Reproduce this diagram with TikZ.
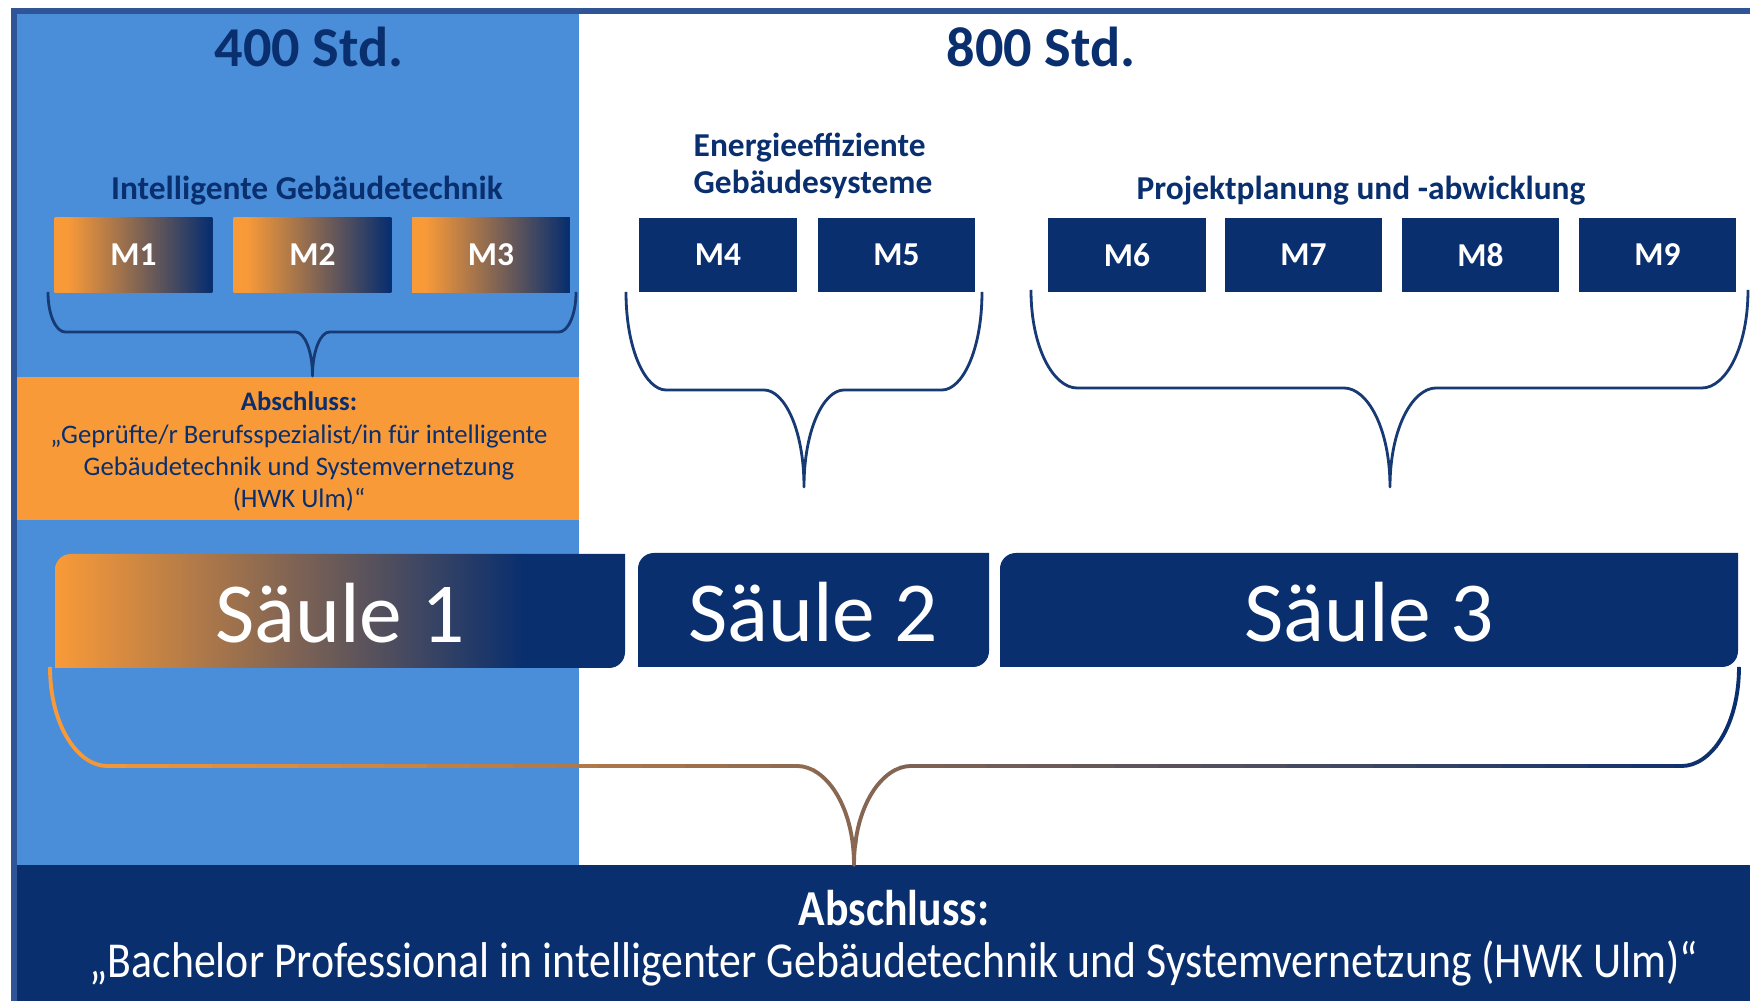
\documentclass[tikz,border=0pt]{standalone}
\usepackage{fontspec}
\setmainfont{Carlito}
\newfontfamily\narrowfont[FakeStretch=0.87]{Carlito}
\usepackage{tikz}

\definecolor{navy}{HTML}{0A2F6E}
\definecolor{panelblue}{HTML}{4A8EDA}
\definecolor{amber}{HTML}{F99A38}
\definecolor{framecol}{HTML}{2F5597}
\definecolor{bracecol}{HTML}{173A74}

\pgfdeclarehorizontalshading{modshade}{100bp}{color(0bp)=(amber); color(29bp)=(amber); color(74bp)=(navy); color(100bp)=(navy)}
\pgfdeclarehorizontalshading{pillarshade}{100bp}{color(0bp)=(amber); color(25bp)=(amber); color(66bp)=(navy); color(100bp)=(navy)}

% curly brace opening downwards: x0, x1, tip x, y top, y middle, y tip, radius
\newcommand{\downbrace}[8][]{%
  \draw[#1] (#2,#5) .. controls (#2,{#5+0.6*(#6-#5)}) and ({#2+0.5*#8},#6) .. ({#2+#8},#6)
    -- ({#4-#8},#6) .. controls ({#4-0.5*#8},#6) and (#4,{#6+0.4*(#7-#6)}) .. (#4,#7)
    .. controls (#4,{#6+0.4*(#7-#6)}) and ({#4+0.5*#8},#6) .. ({#4+#8},#6)
    -- ({#3-#8},#6) .. controls ({#3-0.5*#8},#6) and (#3,{#5+0.6*(#6-#5)}) .. (#3,#5);}

% box with round top left and bottom right corner: x0, y0, x1, y1
\newcommand{\pillar}[5][]{%
  \path[#1] (#2,#5) -- (#2,{#3+16}) .. controls (#2,{#3+7}) and ({#2+7},#3) .. ({#2+16},#3)
    -- (#4,#3) -- (#4,{#5-16}) .. controls (#4,{#5-7}) and ({#4-7},#5) .. ({#4-16},#5) -- cycle;}

\tikzset{
  brace/.style={draw=bracecol,line width=0.8pt,line join=round},
  hours/.style={inner sep=0,anchor=base,text=navy,font=\fontsize{16}{19}\selectfont\bfseries},
  heading/.style={inner sep=0,text=navy,font=\fontsize{9.5}{10.8}\selectfont\bfseries},
  pillartext/.style={inner sep=0,anchor=base,text=white,font=\fontsize{24.3}{29}\selectfont}
}

\begin{document}
\begin{tikzpicture}[x=0.01cm,y=-0.01cm]
  \useasboundingbox[fill=white] (0,0) rectangle (1750,1001);
  \fill[panelblue] (17,14) rectangle (579,865);
  \fill[navy] (17,865) rectangle (1750,1001);
  \fill[amber] (17,377) rectangle (579,520);
  \draw[framecol,line width=1.7pt] (14,1001) -- (14,11.5) -- (1750,11.5);

  \node[hours] (H400) at (309,67) {400 Std.};
  \node[hours] (H800) at (1041,67) {800 Std.};

  \node[heading,anchor=base] (T1) at (307,200) {Intelligente Gebäudetechnik};
  \node[heading,anchor=base west,align=left] (T2) at (693,194) {Energieeffiziente\\Gebäudesysteme};
  \node[heading,anchor=base] (T3) at (1361,200) {Projektplanung und -abwicklung};

  \begin{scope}[every node/.style={minimum width=1.575cm,minimum height=0.74cm,inner sep=0,
      text=white,font=\fontsize{9.5}{11}\selectfont\bfseries}]
    \node[shade,shading=modshade] (M1) at (133.5,255) {M1};
    \node[shade,shading=modshade] (M2) at (312.5,255) {M2};
    \node[shade,shading=modshade] (M3) at (491,255) {M3};
    \node[fill=navy] (M4) at (718,255) {M4};
    \node[fill=navy] (M5) at (896.5,255) {M5};
    \node[fill=navy] (M6) at (1127,255) {M6};
    \node[fill=navy] (M7) at (1303.5,255) {M7};
    \node[fill=navy] (M8) at (1480.5,255) {M8};
    \node[fill=navy] (M9) at (1657.5,255) {M9};
  \end{scope}

  \node[inner sep=0,anchor=base,align=center,text=navy,font=\fontsize{7.6}{9.15}\selectfont] (Q1) at (299,507.5)
    {\textbf{Abschluss:}\\„Geprüfte/r Berufsspezialist/in für intelligente\\Gebäudetechnik und Systemvernetzung\\(HWK Ulm)“};

  \downbrace[brace]{48}{576}{312.5}{292}{332}{376}{17}
  \downbrace[brace]{626}{982}{804}{292}{390}{487}{40}
  \downbrace[brace]{1031}{1748}{1390}{290}{388}{487}{46}

  \foreach \i in {0,...,39}{
    \pgfmathtruncatemacro\mix{100-\i*100/39}
    \begin{scope}
      \clip ({40+\i*43},650) rectangle ({40+(\i+1)*43+0.5},870);
      \downbrace[line width=1.1pt,line join=round,color=amber!\mix!navy]{50}{1739}{854}{667}{766}{865}{57}
    \end{scope}
  }

  \pillar[shade,shading=pillarshade]{55}{554}{625}{668}
  \pillar[fill=navy]{638}{553}{989}{667}
  \pillar[fill=navy]{1000}{553}{1738}{667}
  \node[pillartext] (S1) at (340,643) {Säule 1};
  \node[pillartext] (S2) at (813,642) {Säule 2};
  \node[pillartext] (S3) at (1369,642) {Säule 3};

  \node[inner sep=0,anchor=base,align=center,text=white,
    font=\narrowfont\fontsize{14.3}{14.8}\selectfont] (Q2) at (894,978)
    {\textbf{Abschluss:}\\„Bachelor Professional in intelligenter Gebäudetechnik und Systemvernetzung (HWK Ulm)“};
\end{tikzpicture}
\end{document}
